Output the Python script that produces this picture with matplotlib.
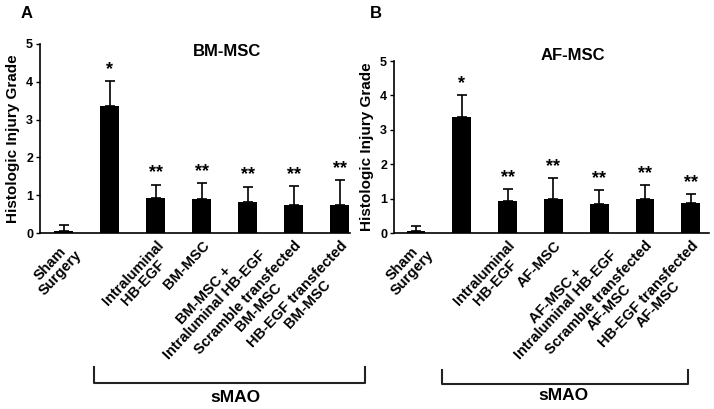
import matplotlib
matplotlib.use("Agg")
import matplotlib.pyplot as plt

plt.rcParams['font.family'] = ['Liberation Sans', 'DejaVu Sans']
plt.rcParams['font.weight'] = 'bold'

labels_a = ["Sham\nSurgery", "", "Intraluminal\nHB-EGF", "BM-MSC",
            "BM-MSC +\nIntraluminal HB-EGF", "Scramble transfected\nBM-MSC",
            "HB-EGF transfected\nBM-MSC"]
values_a = [0.06, 3.37, 0.93, 0.90, 0.81, 0.75, 0.75]
errors_a = [0.16, 0.66, 0.35, 0.42, 0.42, 0.50, 0.64]
stars_a = ["", "*", "**", "**", "**", "**", "**"]

labels_b = ["Sham\nSurgery", "", "Intraluminal\nHB-EGF", "AF-MSC",
            "AF-MSC +\nIntraluminal HB-EGF", "Scramble transfected\nAF-MSC",
            "HB-EGF transfected\nAF-MSC"]
values_b = [0.05, 3.38, 0.92, 1.00, 0.85, 1.00, 0.87]
errors_b = [0.16, 0.63, 0.36, 0.60, 0.41, 0.40, 0.26]
stars_b = ["", "*", "**", "**", "**", "**", "**"]

W, H = 714, 409
fig = plt.figure(figsize=(W / 100, H / 100), dpi=100)


def px_rect(l, t, r, b):
    return [l / W, 1 - b / H, (r - l) / W, (b - t) / H]


def panel(rect, labels, values, errors, stars, xlim, title, title_xy):
    ax = fig.add_axes(rect)
    x = list(range(len(values)))
    ax.bar(x, values, width=0.41, color='black', zorder=2)
    ax.errorbar(x, values, yerr=[[0] * len(values), errors], fmt='none',
                ecolor='black', elinewidth=1.2, capsize=3.5, capthick=1.2, zorder=3)
    for xi, v, e, s in zip(x, values, errors, stars):
        if s:
            ax.text(xi, v + e + 0.08, s, ha='center', va='bottom',
                    fontsize=13, fontweight='bold')
    ax.set_xlim(*xlim)
    ax.set_ylim(0, 5)
    ax.set_yticks([0, 1, 2, 3, 4, 5])
    ax.tick_params(axis='y', labelsize=9, length=3, width=1, pad=2)
    ax.tick_params(axis='x', length=0, pad=4)
    ax.set_xticks(x)
    ax.set_xticklabels(labels, rotation=47, ha='right', rotation_mode='anchor',
                       fontsize=10.5, fontweight='bold', linespacing=1.0)
    for t in ax.get_xticklabels():
        t.set_multialignment('center')
    for sp in ['top', 'right']:
        ax.spines[sp].set_visible(False)
    for sp in ['left', 'bottom']:
        ax.spines[sp].set_linewidth(1.2)
    ax.set_ylabel("Histologic Injury Grade", fontsize=11, fontweight='bold', labelpad=4)
    fig.text(title_xy[0] / W, 1 - title_xy[1] / H, title, ha='center', va='center',
             fontsize=12, fontweight='bold')
    return ax


panel(px_rect(40, 44, 350, 233), labels_a, values_a, errors_a, stars_a,
      (-0.52, 6.22), "BM-MSC", (227, 52))
panel(px_rect(394, 61, 709, 233), labels_b, values_b, errors_b, stars_b,
      (-0.48, 6.40), "AF-MSC", (573, 55))

fig.text(27 / W, 1 - 14 / H, "A", ha='center', va='center', fontsize=12, fontweight='bold')
fig.text(376 / W, 1 - 14 / H, "B", ha='center', va='center', fontsize=12, fontweight='bold')


def bracket(l, r, t, b, label, lx, ly):
    xs = [l / W, l / W, r / W, r / W]
    ys = [1 - t / H, 1 - b / H, 1 - b / H, 1 - t / H]
    fig.add_artist(plt.Line2D(xs, ys, color='#222222', linewidth=1.5))
    fig.text(lx / W, 1 - ly / H, label, ha='center', va='center',
             fontsize=12.5, fontweight='bold')


bracket(94, 365, 367, 383, "sMAO", 235, 397)
bracket(442, 688, 370, 384, "sMAO", 563, 396)

fig.savefig("out.png", dpi=100)
